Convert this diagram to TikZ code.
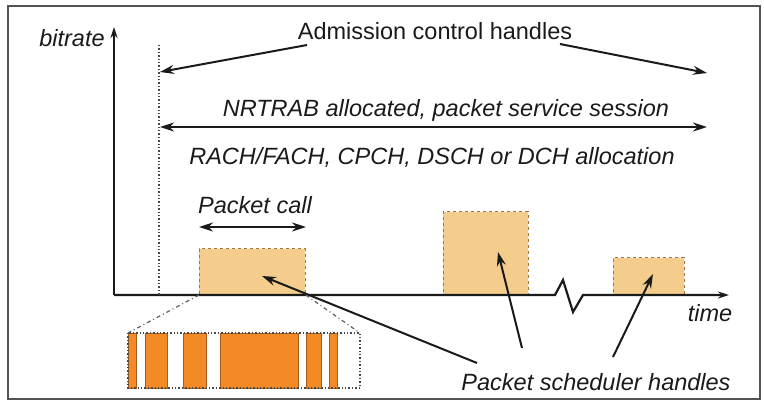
\documentclass[tikz,border=0pt]{standalone}
\usepackage{fontspec}
\setmainfont{Liberation Sans}
\usetikzlibrary{arrows.meta}
\definecolor{boxfill}{HTML}{F4CD8C}
\definecolor{boxedge}{HTML}{A8743E}
\definecolor{barfill}{HTML}{F28A26}
\definecolor{baredge}{HTML}{A85A18}
\definecolor{ink}{HTML}{1A1A1A}
\tikzset{
  lbl/.style={font=\fontsize{23.5}{26}\selectfont\itshape, inner sep=0pt, text=ink},
  lblup/.style={font=\fontsize{23.5}{26}\selectfont, inner sep=0pt, text=ink},
  axis/.style={line width=2.2pt, draw=ink},
  arr/.style={line width=2pt, draw=ink, -{Stealth[length=14pt,width=9pt]}},
  darr/.style={line width=2pt, draw=ink, {Stealth[length=14pt,width=9pt]}-{Stealth[length=14pt,width=9pt]}},
  pbox/.style={fill=boxfill, draw=boxedge, dashed, line width=0.8pt},
  pbar/.style={fill=barfill, draw=baredge, line width=0.9pt},
  zoomline/.style={draw=ink!70, line width=1.2pt, dash pattern=on 4pt off 3pt on 1pt off 3pt},
}
\begin{document}
\begin{tikzpicture}[x=1pt,y=-1pt]
\useasboundingbox (0,0) rectangle (764,402);
% frame
\draw[line width=1.3pt, draw=ink!75] (8,6) rectangle (760,399);
% packet boxes
\node[pbox, minimum width=106pt, minimum height=46pt, anchor=south west, inner sep=0pt] (b1) at (199,295) {};
\node[pbox, minimum width=85pt, minimum height=83pt, anchor=south west, inner sep=0pt] (b2) at (443,295) {};
\node[pbox, minimum width=71pt, minimum height=37pt, anchor=south west, inner sep=0pt] (b3) at (613,295) {};
% axes
\coordinate (o) at (114,295);
\coordinate (ytop) at (114,27);
\coordinate (z0) at (555,295);
\coordinate (z1) at (563,280);
\coordinate (z2) at (573,312);
\coordinate (z3) at (583,295);
\coordinate (xend) at (729,295);
\draw[axis, -{Stealth[length=11pt,width=7pt]}] (o) -- (ytop);
\draw[axis, -{Stealth[length=11pt,width=7pt]}] (o) -- (z0) -- (z1) -- (z2) -- (z3) -- (xend);
% dotted session start
\coordinate (d0) at (159,45);
\coordinate (d1) at (159,295);
\draw[line width=1.4pt, dotted, draw=ink!80] (d0) -- (d1);
% labels
\node[lbl] (bitrate) at (72,38) {bitrate};
\node[lblup] (adm) at (435,31) {Admission control handles};
\node[lbl] (nrt) at (446,110) {NRTRAB allocated, packet service session};
\node[lbl] (rach) at (432,157) {RACH/FACH, CPCH, DSCH or DCH allocation};
\node[lbl] (pc) at (255,205) {Packet call};
\node[lbl] (time) at (710,313) {time};
\node[lbl] (psh) at (596,382) {Packet scheduler handles};
% admission arrows
\coordinate (a0) at (307,45);
\coordinate (a1) at (160,72);
\coordinate (a2) at (560,44);
\coordinate (a3) at (707,73);
\draw[arr] (a0) -- (a1);
\draw[arr] (a2) -- (a3);
% session arrow
\coordinate (s0) at (160,127);
\coordinate (s1) at (707,127);
\draw[darr] (s0) -- (s1);
% packet call arrow
\coordinate (p0) at (199,227);
\coordinate (p1) at (306,227);
\draw[darr] (p0) -- (p1);
% scheduler arrows
\coordinate (h1s) at (477,363);
\coordinate (h1e) at (262,276);
\coordinate (h2s) at (522,348);
\coordinate (h2e) at (498,252);
\coordinate (h3s) at (613,357);
\coordinate (h3e) at (653,274);
\draw[arr] (h1s) -- (h1e);
\draw[arr] (h2s) -- (h2e);
\draw[arr] (h3s) -- (h3e);
% zoom-in of packet call
\coordinate (f0) at (128,333);
\coordinate (f1) at (360,388);
\node[pbar, minimum width=8pt, minimum height=55pt, anchor=north west, inner sep=0pt] (r1) at (128,333) {};
\node[pbar, minimum width=22pt, minimum height=55pt, anchor=north west, inner sep=0pt] (r2) at (145,333) {};
\node[pbar, minimum width=23pt, minimum height=55pt, anchor=north west, inner sep=0pt] (r3) at (183,333) {};
\node[pbar, minimum width=78pt, minimum height=55pt, anchor=north west, inner sep=0pt] (r4) at (220,333) {};
\node[pbar, minimum width=15pt, minimum height=55pt, anchor=north west, inner sep=0pt] (r5) at (306,333) {};
\node[pbar, minimum width=8pt, minimum height=55pt, anchor=north west, inner sep=0pt] (r6) at (329,333) {};
\draw[line width=1.4pt, dotted, draw=ink!80] (f0) rectangle (f1);
\coordinate (f0r) at (360,333);
\draw[zoomline] (b1.south west) -- (f0);
\draw[zoomline] (b1.south east) -- (f0r);
\end{tikzpicture}
\end{document}
